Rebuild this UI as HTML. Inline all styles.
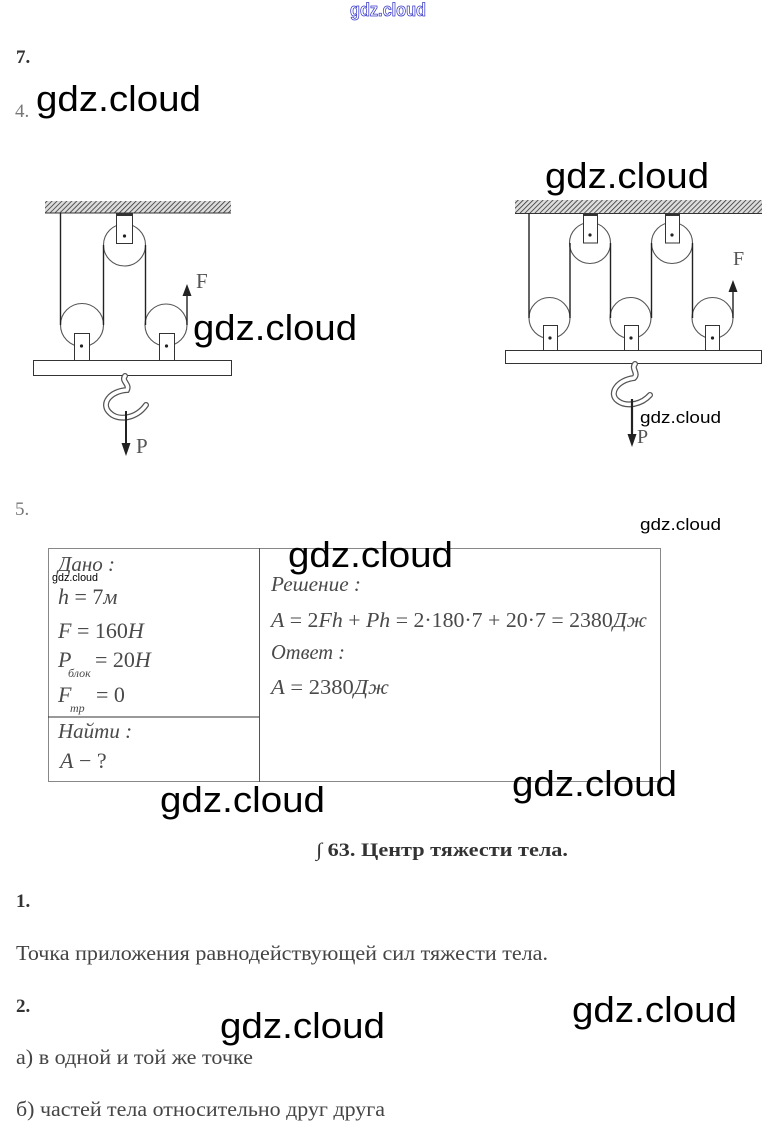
<!DOCTYPE html>
<html>
<head>
<meta charset="utf-8">
<style>
  html,body{margin:0;padding:0;background:#fff;}
  svg{display:block;}
  .wm{font-family:"Liberation Sans",sans-serif;fill:#000;}
  .ser{font-family:"Liberation Serif","DejaVu Serif",serif;}
  .it{font-family:"Liberation Serif","DejaVu Serif",serif;font-style:italic;fill:#4a4a4a;}
  .rm{font-style:normal;}
</style>
</head>
<body>
<svg width="775" height="1137" viewBox="0 0 775 1137" xmlns="http://www.w3.org/2000/svg">
  <defs>
    <pattern id="hatch" width="3.5" height="3.5" patternUnits="userSpaceOnUse" patternTransform="rotate(45)">
      <rect width="3.5" height="3.5" fill="#ddd"/>
      <line x1="0" y1="0" x2="0" y2="3.5" stroke="#333" stroke-width="1.6"/>
    </pattern>
  </defs>
  <rect width="775" height="1137" fill="#fff"/>

  <!-- top outlined watermark -->
  <text x="350" y="16" class="wm" font-size="18" font-weight="bold" fill="#fff" stroke="#3838c8" stroke-width="0.8" textLength="76" lengthAdjust="spacingAndGlyphs" style="fill:#fff">gdz.cloud</text>

  <!-- section numbers -->
  <text x="16" y="63" class="ser" font-size="19" font-weight="bold" fill="#333">7.</text>
  <text x="15" y="117" class="ser" font-size="19" fill="#777">4.</text>

  <!-- ============ LEFT DIAGRAM ============ -->
  <rect x="45" y="201" width="186" height="12" fill="url(#hatch)"/>
  <line x1="45" y1="213" x2="231" y2="213" stroke="#333" stroke-width="1"/>

  <!-- pulleys -->
  <g fill="#fff" stroke="#555" stroke-width="1.1">
    <circle cx="124.5" cy="245" r="21"/>
    <circle cx="82" cy="325" r="21.5"/>
    <circle cx="166" cy="325" r="21"/>
  </g>
  <!-- ropes -->
  <g stroke="#222" stroke-width="1.4">
    <line x1="60.5" y1="213" x2="60.5" y2="325"/>
    <line x1="103.5" y1="325" x2="103.5" y2="245"/>
    <line x1="145.5" y1="245" x2="145.5" y2="325"/>
    <line x1="187" y1="325" x2="187" y2="294"/>
  </g>
  <polygon points="187,284 182.5,296 191.5,296" fill="#222"/>
  <text x="196" y="288" class="ser" font-size="21" fill="#555">F</text>

  <!-- brackets -->
  <g fill="#fff" stroke="#333" stroke-width="1">
    <rect x="116.5" y="213.5" width="16" height="30"/>
    <rect x="74.5" y="333.5" width="15" height="27"/>
    <rect x="159.5" y="333.5" width="15" height="27"/>
  </g>
  <rect x="117" y="213" width="15" height="3" fill="#333"/>
  <g fill="#222">
    <circle cx="124.5" cy="236" r="1.6"/>
    <circle cx="81.5" cy="346" r="1.6"/>
    <circle cx="166.5" cy="346" r="1.6"/>
  </g>

  <!-- plank -->
  <rect x="33.5" y="360.5" width="198" height="15" fill="#fff" stroke="#333" stroke-width="1"/>

  <!-- hook -->
  <path d="M125 376 C121 381 130 384 127 390 C110 391 100 404 110 413 C118 421 136 419 146 405"
        fill="none" stroke="#555" stroke-width="6" stroke-linecap="round"/>
  <path d="M125 376 C121 381 130 384 127 390 C110 391 100 404 110 413 C118 421 136 419 146 405"
        fill="none" stroke="#fff" stroke-width="3.5" stroke-linecap="round"/>
  <line x1="126" y1="411" x2="126" y2="446" stroke="#222" stroke-width="2"/>
  <polygon points="126,456 121.5,443 130.5,443" fill="#222"/>
  <text x="136" y="453" class="ser" font-size="21" fill="#555">P</text>

  <!-- ============ RIGHT DIAGRAM ============ -->
  <rect x="515" y="200" width="247" height="13" fill="url(#hatch)"/>
  <line x1="515" y1="213.5" x2="762" y2="213.5" stroke="#333" stroke-width="1"/>

  <g fill="#fff" stroke="#555" stroke-width="1.1">
    <circle cx="590" cy="243" r="20.5"/>
    <circle cx="672" cy="243" r="20.5"/>
    <circle cx="549.5" cy="318" r="20.5"/>
    <circle cx="630.5" cy="318" r="20.5"/>
    <circle cx="712.5" cy="318" r="20.5"/>
  </g>
  <g stroke="#222" stroke-width="1.4">
    <line x1="529" y1="213" x2="529" y2="318"/>
    <line x1="570" y1="318" x2="570" y2="243"/>
    <line x1="610.5" y1="243" x2="610.5" y2="318"/>
    <line x1="651.5" y1="318" x2="651.5" y2="243"/>
    <line x1="692.5" y1="243" x2="692.5" y2="318"/>
    <line x1="733" y1="318" x2="733" y2="291"/>
  </g>
  <polygon points="733,280 728.5,292 737.5,292" fill="#222"/>
  <text x="733" y="265" class="ser" font-size="20" fill="#555">F</text>

  <g fill="#fff" stroke="#333" stroke-width="1">
    <rect x="583.5" y="214" width="14" height="29"/>
    <rect x="665.5" y="214" width="14" height="29"/>
    <rect x="543.5" y="325.5" width="14" height="25"/>
    <rect x="624.5" y="325.5" width="14" height="25"/>
    <rect x="705.5" y="325.5" width="14" height="25"/>
  </g>
  <rect x="584" y="213" width="13" height="3" fill="#333"/>
  <rect x="666" y="213" width="13" height="3" fill="#333"/>
  <g fill="#222">
    <circle cx="590" cy="235" r="1.6"/>
    <circle cx="672" cy="235" r="1.6"/>
    <circle cx="550" cy="338" r="1.6"/>
    <circle cx="631" cy="338" r="1.6"/>
    <circle cx="712.5" cy="338" r="1.6"/>
  </g>

  <rect x="505.5" y="350.5" width="256" height="13" fill="#fff" stroke="#333" stroke-width="1"/>

  <path d="M635 364 C631 369 639 373 634 378 C617 380 608 394 618 401 C626 407 641 405 650 395"
        fill="none" stroke="#555" stroke-width="6" stroke-linecap="round"/>
  <path d="M635 364 C631 369 639 373 634 378 C617 380 608 394 618 401 C626 407 641 405 650 395"
        fill="none" stroke="#fff" stroke-width="3.5" stroke-linecap="round"/>
  <line x1="632" y1="399" x2="632" y2="437" stroke="#222" stroke-width="2.2"/>
  <polygon points="632,447 627.5,434 636.5,434" fill="#222"/>
  <text x="637" y="443" class="ser" font-size="20" fill="#555">P</text>

  <!-- ============ 5. ============ -->
  <text x="15" y="515" class="ser" font-size="19" fill="#777">5.</text>

  <!-- table -->
  <rect x="48.5" y="548.5" width="612" height="233" fill="none" stroke="#888" stroke-width="1"/>
  <line x1="259.5" y1="548" x2="259.5" y2="782" stroke="#555" stroke-width="1"/>
  <line x1="48" y1="717" x2="259.5" y2="717" stroke="#333" stroke-width="1"/>

  <text x="58" y="571" class="it" font-size="21">Дано :</text>
  <text x="58" y="604" class="it" font-size="22">h<tspan class="rm"> = 7</tspan>м</text>
  <text x="58" y="638" class="it" font-size="22">F<tspan class="rm"> = 160</tspan>H</text>
  <text x="58" y="667" class="it" font-size="22">P</text>
  <text x="68" y="677" class="it" font-size="12">блок</text>
  <text x="95" y="667" class="it" font-size="22"><tspan class="rm">= 20</tspan>H</text>
  <text x="58" y="702" class="it" font-size="22">F</text>
  <text x="70" y="712" class="it" font-size="12">тр</text>
  <text x="96" y="702" class="it" font-size="22"><tspan class="rm">= 0</tspan></text>
  <text x="58" y="738" class="it" font-size="21">Найти :</text>
  <text x="60" y="768" class="it" font-size="22">A<tspan class="rm"> − ?</tspan></text>

  <text x="271" y="591" class="it" font-size="21" textLength="90" lengthAdjust="spacingAndGlyphs">Решение :</text>
  <text x="271" y="627" class="it" font-size="21" textLength="376" lengthAdjust="spacingAndGlyphs">A<tspan class="rm"> = 2</tspan>Fh<tspan class="rm"> + </tspan>Ph<tspan class="rm"> = 2·180·7 + 20·7 = 2380</tspan>Дж</text>
  <text x="271" y="659" class="it" font-size="21" textLength="74" lengthAdjust="spacingAndGlyphs">Ответ :</text>
  <text x="271" y="694" class="it" font-size="21" textLength="118" lengthAdjust="spacingAndGlyphs">A<tspan class="rm"> = 2380</tspan>Дж</text>

  <!-- section title -->
  <text x="316" y="856" class="ser" font-size="19" font-weight="bold" fill="#333" textLength="252" lengthAdjust="spacingAndGlyphs">∫ 63. Центр тяжести тела.</text>

  <text x="16" y="907" class="ser" font-size="19" font-weight="bold" fill="#333">1.</text>
  <text x="16" y="960" class="ser" font-size="21" fill="#444" textLength="532" lengthAdjust="spacingAndGlyphs">Точка приложения равнодействующей сил тяжести тела.</text>

  <text x="16" y="1012" class="ser" font-size="19" font-weight="bold" fill="#333">2.</text>
  <text x="16" y="1064" class="ser" font-size="21" fill="#444" textLength="237" lengthAdjust="spacingAndGlyphs">а) в одной и той же точке</text>
  <text x="16" y="1116" class="ser" font-size="21" fill="#444" textLength="369" lengthAdjust="spacingAndGlyphs">б) частей тела относительно друг друга</text>

  <!-- ============ watermarks ============ -->
  <g class="wm" font-size="36">
    <text x="36" y="111" textLength="165" lengthAdjust="spacingAndGlyphs">gdz.cloud</text>
    <text x="545" y="188" textLength="164" lengthAdjust="spacingAndGlyphs">gdz.cloud</text>
    <text x="193" y="340" textLength="164" lengthAdjust="spacingAndGlyphs">gdz.cloud</text>
    <text x="288" y="567" textLength="165" lengthAdjust="spacingAndGlyphs">gdz.cloud</text>
    <text x="160" y="812" textLength="165" lengthAdjust="spacingAndGlyphs">gdz.cloud</text>
    <text x="512" y="796" textLength="165" lengthAdjust="spacingAndGlyphs">gdz.cloud</text>
    <text x="220" y="1038" textLength="165" lengthAdjust="spacingAndGlyphs">gdz.cloud</text>
    <text x="572" y="1022" textLength="165" lengthAdjust="spacingAndGlyphs">gdz.cloud</text>
  </g>
  <text x="640" y="423" class="wm" font-size="17" textLength="81" lengthAdjust="spacingAndGlyphs">gdz.cloud</text>
  <text x="640" y="530" class="wm" font-size="17" textLength="81" lengthAdjust="spacingAndGlyphs">gdz.cloud</text>
  <text x="52" y="581" class="wm" font-size="11" textLength="46" lengthAdjust="spacingAndGlyphs">gdz.cloud</text>
</svg>
</body>
</html>
